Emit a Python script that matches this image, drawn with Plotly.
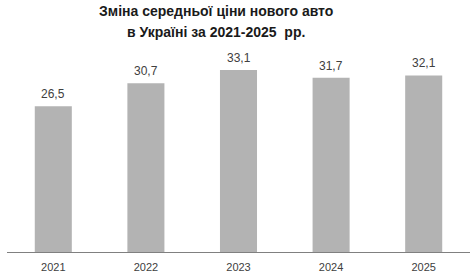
import plotly.graph_objects as go

years = ["2021", "2022", "2023", "2024", "2025"]
prices = [26.5, 30.7, 33.1, 31.7, 32.1]
title_lines = ["Зміна середньої ціни нового авто", "в Україні за 2021-2025  рр."]

labels = [f"{v:.1f}".replace(".", ",") for v in prices]
idx = list(range(len(years)))

fig = go.Figure(go.Bar(
    x=idx, y=prices, width=0.4,
    marker=dict(color="#b3b3b3", line=dict(width=0)),
    hoverinfo="skip",
))

for x, y, t in zip(idx, prices, labels):
    fig.add_annotation(x=x, y=y, text=t, showarrow=False, yanchor="bottom",
                       yshift=3, font=dict(family="Liberation Sans", size=12, color="#404040"))

for ypos, line in zip([(252 - 11) / 198, (252 - 32) / 198], title_lines):
    fig.add_annotation(xref="paper", yref="paper", x=(216 - 7) / 463, y=ypos, yanchor="middle",
                       showarrow=False, text="<b>" + line + "</b>",
                       font=dict(family="Liberation Sans", size=14, color="#1a1a1a"))

fig.update_layout(
    width=473, height=280,
    margin=dict(l=7, r=3, t=54, b=28),
    paper_bgcolor="white", plot_bgcolor="white",
    showlegend=False,
    xaxis=dict(range=[-0.5, 4.5], tickmode="array", tickvals=idx, ticktext=years,
               showline=True, linecolor="#808080", linewidth=1, ticks="", zeroline=False,
               ticklabelstandoff=5,
               tickfont=dict(family="Liberation Sans", size=11, color="#404040"),
               showgrid=False, fixedrange=True),
    yaxis=dict(range=[0, 36], visible=False, showgrid=False, zeroline=False, fixedrange=True),
)

fig.write_html("out.html", config={"displayModeBar": False})
